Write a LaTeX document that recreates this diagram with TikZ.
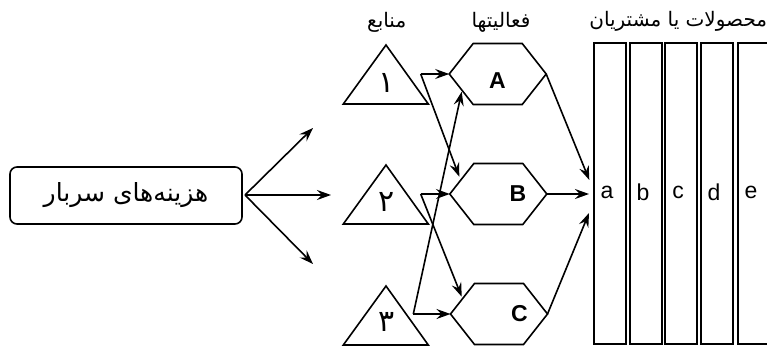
\documentclass[tikz,border=0pt]{standalone}
\usepackage{fontspec}
\setmainfont{Liberation Sans}
\newfontfamily\arabicfont[Script=Arabic]{DejaVu Sans}
\TeXXeTstate=1
\usetikzlibrary{arrows.meta}
\begin{document}
\begin{tikzpicture}[x=1pt,y=-1pt,line width=1.6pt,line join=miter,
  arr/.style={-{Stealth[length=14pt,width=10pt,inset=5pt]}},
  ttl/.style={font=\arabicfont\fontsize{20pt}{22pt}\selectfont,inner sep=0pt},
  digit/.style={font=\arabicfont\fontsize{30pt}{32pt}\selectfont,inner sep=0pt},
  hexlabel/.style={font=\bfseries\fontsize{23pt}{25pt}\selectfont,inner sep=0pt},
  prod/.style={draw,minimum width=32pt,minimum height=301pt,inner sep=0pt},
  prodlabel/.style={font=\fontsize{23pt}{25pt}\selectfont,inner sep=0pt}]
\useasboundingbox (0,0) rectangle (767,351);

% overhead cost box
\node[draw,rounded corners=7pt,minimum width=232pt,minimum height=57pt,inner sep=0pt,
      font=\arabicfont\fontsize{25pt}{27pt}\selectfont] (cost) at (126,195.5)
  {\beginR هزینه^^^^200cهای سربار\endR};
\coordinate (cs) at (245,195);
\coordinate (c1) at (313,128);
\coordinate (c2) at (331,195);
\coordinate (c3) at (313,264);
\draw[arr] (cs) -- (c1);
\draw[arr] (cs) -- (c2);
\draw[arr] (cs) -- (c3);

% titles
\node[ttl] (tres) at (386.7,22) {\beginR منابع\endR};
\node[ttl] (tact) at (501,22) {\beginR فعالیتها\endR};
\node[ttl,anchor=east] (tprod) at (768,21) {\beginR محصولات یا مشتریان\endR};

% resources (triangles)
\foreach \n/\top/\bot in {r1/45/104, r2/165/224, r3/286/345} {
  \draw (386,\top) coordinate (\n-apex) -- (428.3,\bot) -- (343.3,\bot) -- cycle;
}
\node[digit] (d1) at (386.7,83) {\beginR ۱\endR};
\node[digit] (d2) at (386.7,201.7) {\beginR ۲\endR};
\node[digit] (d3) at (386.7,321.7) {\beginR ۳\endR};

% activities (hexagons)
\foreach \n/\cx/\cy in {hA/497.7/74, hB/498.3/194, hC/499/314} {
  \draw (\cx-48.5,\cy) coordinate (\n-w) -- (\cx-24.5,\cy-30.5) -- (\cx+24.5,\cy-30.5)
     -- (\cx+48.5,\cy) coordinate (\n-e) -- (\cx+24.5,\cy+30.5) -- (\cx-24.5,\cy+30.5) -- cycle;
}
\node[hexlabel] (lA) at (497.5,81) {A};
\node[hexlabel] (lB) at (518,194) {B};
\node[hexlabel] (lC) at (519.5,314) {C};

% products
\foreach \n/\cx/\l in {pa/610/a, pb/646/b, pc/681/c, pd/717/d, pe/754/e} {
  \node[prod] (\n) at (\cx,193.5) {};
  \node[prodlabel] (\n-l) at (\cx-3,192) {\l};
}

% resource -> activity connectors
\coordinate (s1) at (420.7,74);
\coordinate (s2) at (420.7,194);
\coordinate (s3) at (413.3,314);
\coordinate (tB) at (459.3,176.7);
\coordinate (tC) at (461.7,296.7);
\coordinate (tA) at (461.7,91.7);
\draw[arr] (s1) -- (hA-w);
\draw[arr] (s1) -- (tB);
\draw[arr] (s2) -- (hB-w);
\draw[arr] (s2) -- (tC);
\draw[arr] (s3) -- (hC-w);
\draw[arr] (s3) -- (tA);

% activity -> product connectors
\coordinate (pa1) at (589.3,180);
\coordinate (pa2) at (589,194);
\coordinate (pa3) at (589,213);
\draw[arr] (hA-e) -- (pa1);
\draw[arr] (hB-e) -- (pa2);
\draw[arr] (hC-e) -- (pa3);
\end{tikzpicture}
\end{document}
